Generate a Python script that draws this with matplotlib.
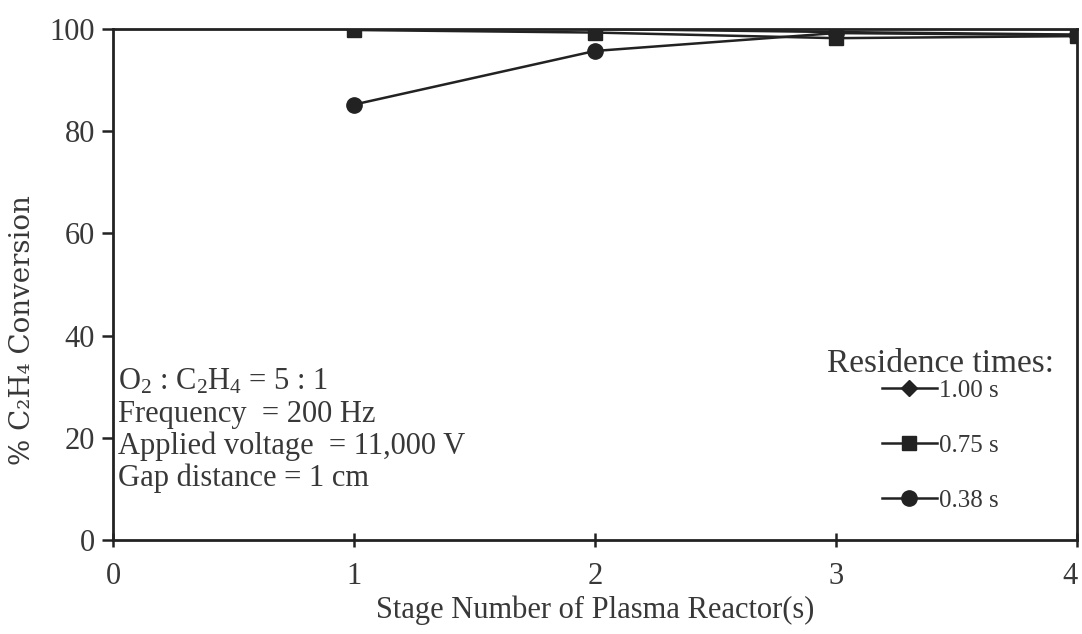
import matplotlib
matplotlib.use("Agg")
import matplotlib.pyplot as plt
import matplotlib.transforms as mtransforms

# stage number of plasma reactors
stages = [1, 2, 3, 4]

# % C2H4 conversion for each residence time
conv_100s = [100.0, 100.0, 99.4, 98.9]
conv_075s = [99.8, 99.3, 98.2, 98.6]
conv_038s = [85.2, 95.7, 99.2, 98.8]

x_ticks = [0, 1, 2, 3, 4]
y_ticks = [0, 20, 40, 60, 80, 100]

plt.rcParams['font.family'] = ['Liberation Serif', 'DejaVu Serif']
plt.rcParams['mathtext.fontset'] = 'custom'
plt.rcParams['mathtext.rm'] = 'Liberation Serif'
plt.rcParams['mathtext.it'] = 'Liberation Serif:italic'

ink = '#222222'
txt = '#383838'

fig = plt.figure(figsize=(10.82, 6.34), dpi=100)
ax = fig.add_axes([0.1044, 0.1483, 0.891, 0.806])

ax.plot(stages, conv_100s, color=ink, lw=1.8, marker='D', ms=8, label='1.00 s', zorder=3)
ax.plot(stages, conv_075s, color=ink, lw=1.8, marker='s', ms=10, label='0.75 s', zorder=4)
ax.plot(stages, conv_038s, color=ink, lw=1.8, marker='o', ms=11, label='0.38 s', zorder=5)

ax.set_xlim(0, 4)
ax.set_ylim(0, 100)
ax.set_xticks(x_ticks)
ax.set_yticks(y_ticks)
for s in ax.spines.values():
    s.set_color(ink)
    s.set_linewidth(2.0)

ax.tick_params(axis='y', direction='out', length=8, width=1.8, color=ink,
               labelsize=22, labelcolor=txt, pad=5)
ax.tick_params(axis='x', direction='inout', length=10, width=1.8, color=ink,
               labelsize=22, labelcolor=txt, pad=11)

# nudge the last x label in so it stays inside the figure
last = ax.get_xticklabels()[-1]
last.set_transform(last.get_transform() +
                   mtransforms.ScaledTranslation(-5 / 72, 0, fig.dpi_scale_trans))

ax.set_xlabel('Stage Number of Plasma Reactor(s)', fontsize=22, color=txt, labelpad=3)
ax.set_ylabel('% C₂H₄ Conversion', fontsize=20, color=txt, family='DejaVu Serif')
ax.yaxis.set_label_coords(-0.08, 0.41)

# operating conditions
conditions = [r'O$_2$ : C$_2$H$_4$ = 5 : 1',
              'Frequency  = 200 Hz',
              'Applied voltage  = 11,000 V',
              'Gap distance = 1 cm']
for i, line in enumerate(conditions):
    ax.text(0.005, 0.309 - i * 0.0625, line, transform=ax.transAxes,
            fontsize=22, color=txt, va='center', ha='left')

leg = ax.legend(title='Residence times:', loc='lower right',
                bbox_to_anchor=(0.976, 0.055), frameon=False, fontsize=18,
                title_fontsize=24, handlelength=2.2, handletextpad=0.1,
                labelspacing=1.3, borderaxespad=0, borderpad=0)
leg.get_title().set_color(txt)
leg._legend_box.sep = 0
for t in leg.get_texts():
    t.set_color(txt)

fig.savefig('out.png', dpi=100)
